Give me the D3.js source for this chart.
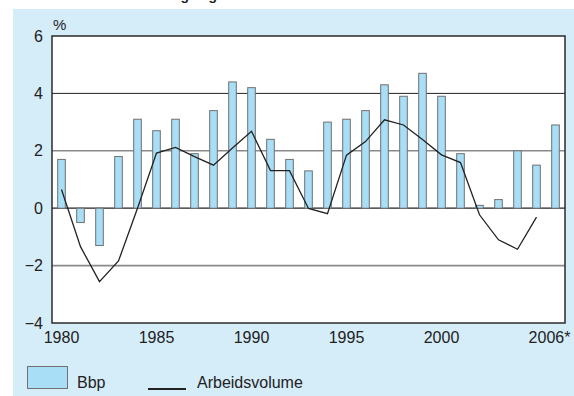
<!DOCTYPE html>
<html>
<head>
<meta charset="utf-8">
<script src="https://cdn.jsdelivr.net/npm/d3@7"></script>
<style>
  html, body { margin: 0; padding: 0; background: #ffffff; }
  svg { display: block; }
  text { font-family: "Liberation Sans", Arial, Helvetica, sans-serif; fill: #222; }
</style>
</head>
<body>
<svg id="chart" width="574" height="396"></svg>
<script>
// Annual growth, in percent
const years = d3.range(1980, 2007);
const bbp = [1.7, -0.5, -1.3, 1.8, 3.1, 2.7, 3.1, 1.9, 3.4, 4.4,
             4.2, 2.4, 1.7, 1.3, 3.0, 3.1, 3.4, 4.3, 3.9, 4.7,
             3.9, 1.9, 0.1, 0.3, 2.0, 1.5, 2.9];
const arbeidsvolume = [0.65, -1.34, -2.56, -1.84, 0.0, 1.92, 2.12, 1.8, 1.5, 2.1,
                       2.68, 1.31, 1.31, -0.01, -0.19, 1.85, 2.32, 3.08, 2.9, 2.39,
                       1.86, 1.59, -0.23, -1.1, -1.43, -0.31, null];
const yTicks = [-4, -2, 0, 2, 4, 6];
const xTickYears = [1980, 1985, 1990, 1995, 2000, 2006];
const xTickLabels = ["1980", "1985", "1990", "1995", "2000", "2006*"];
const seriesNames = ["Bbp", "Arbeidsvolume"];
const titleText = "Productie en werkgelegenheid";

const svg = d3.select("#chart");

// heading, sitting mostly above the visible area
svg.append("text")
  .attr("x", 60).attr("y", -0.5)
  .attr("font-size", 14).attr("font-weight", "bold")
  .text(titleText);

// light blue panel
svg.append("rect")
  .attr("x", 13).attr("y", 9).attr("width", 561).attr("height", 387)
  .attr("fill", "#d5ecf9");

const plot = { left: 52, right: 565, top: 36, bottom: 323 };

const x = d3.scaleBand()
  .domain(years)
  .range([plot.left, plot.right])
  .paddingInner(0.6)
  .paddingOuter(0.3);

const y = d3.scaleLinear()
  .domain([-4, 6])
  .range([plot.bottom, plot.top]);

// plot area
svg.append("rect")
  .attr("x", plot.left).attr("y", plot.top)
  .attr("width", plot.right - plot.left).attr("height", plot.bottom - plot.top)
  .attr("fill", "#ffffff");

// horizontal grid
const gridStyle = { "4": ["#222", 1], "2": ["#8a8a8a", 1.6], "0": ["#222", 1.2], "-2": ["#8a8a8a", 1.6] };
svg.append("g").selectAll("line")
  .data([4, 2, 0, -2])
  .join("line")
  .attr("x1", plot.left).attr("x2", plot.right)
  .attr("y1", d => y(d)).attr("y2", d => y(d))
  .attr("stroke", d => gridStyle[d][0])
  .attr("stroke-width", d => gridStyle[d][1]);

// Bbp bars
svg.append("g").selectAll("rect")
  .data(years.map((yr, i) => ({ yr, v: bbp[i] })))
  .join("rect")
  .attr("x", d => x(d.yr))
  .attr("width", x.bandwidth())
  .attr("y", d => y(Math.max(0, d.v)))
  .attr("height", d => Math.abs(y(d.v) - y(0)))
  .attr("fill", "#a9def7")
  .attr("stroke", "#707070")
  .attr("stroke-width", 1);

// Arbeidsvolume line
const line = d3.line()
  .defined(d => d.v !== null)
  .x(d => x(d.yr) + x.bandwidth() / 2)
  .y(d => y(d.v));
svg.append("path")
  .datum(years.map((yr, i) => ({ yr, v: arbeidsvolume[i] })))
  .attr("d", line)
  .attr("fill", "none")
  .attr("stroke", "#222")
  .attr("stroke-width", 1.3)
  .attr("stroke-linejoin", "miter");

// frame
svg.append("rect")
  .attr("x", plot.left).attr("y", plot.top)
  .attr("width", plot.right - plot.left).attr("height", plot.bottom - plot.top)
  .attr("fill", "none")
  .attr("stroke", "#2a2a2a")
  .attr("stroke-width", 1.5);

// y axis labels
const yAxis = svg.append("g")
  .attr("transform", `translate(${plot.left},0)`)
  .call(d3.axisLeft(y).tickValues(yTicks).tickSize(0).tickPadding(9));
yAxis.select(".domain").remove();
yAxis.selectAll("text")
  .attr("font-size", 16)
  .attr("font-family", null)
  .attr("fill", "#222");

svg.append("text")
  .attr("x", 53).attr("y", 30)
  .attr("font-size", 15)
  .text("%");

// x axis labels
const xAxis = svg.append("g")
  .attr("transform", `translate(${x.bandwidth() / 2},${plot.bottom})`)
  .call(d3.axisBottom(x).tickValues(xTickYears)
    .tickFormat(d => xTickLabels[xTickYears.indexOf(d)])
    .tickSize(0).tickPadding(8.6));
xAxis.select(".domain").remove();
xAxis.selectAll("text")
  .attr("font-size", 16)
  .attr("font-family", null)
  .attr("fill", "#222")
  .attr("dx", d => d === 2006 ? -6 : 0);
xAxis.selectAll(".tick").attr("transform", d => `translate(${x(d)},0)`);

// legend
const legend = svg.append("g");
legend.append("rect")
  .attr("x", 27.5).attr("y", 366.5).attr("width", 40).attr("height", 22)
  .attr("fill", "#a9def7").attr("stroke", "#707070").attr("stroke-width", 1);
legend.append("text")
  .attr("x", 77).attr("y", 388)
  .attr("font-size", 16)
  .text(seriesNames[0]);
legend.append("line")
  .attr("x1", 148).attr("x2", 186).attr("y1", 389).attr("y2", 389)
  .attr("stroke", "#222").attr("stroke-width", 2);
legend.append("text")
  .attr("x", 197).attr("y", 388)
  .attr("font-size", 16)
  .text(seriesNames[1]);
</script>
</body>
</html>
